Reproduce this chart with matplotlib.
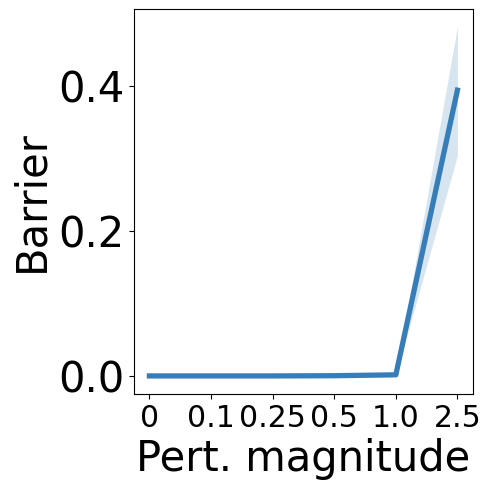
import matplotlib
matplotlib.use("Agg")
from matplotlib import pyplot as plt
import numpy as np

magnitudes = ["0", "0.1", "0.25", "0.5", "1.0", "2.5"]
barrier_mean = [0.0, 0.0, 0.0, 0.0003, 0.0015, 0.394]
barrier_low = [-0.0005, -0.0005, -0.0005, -0.0002, 0.0005, 0.304]
barrier_high = [0.0005, 0.0005, 0.0005, 0.0008, 0.0025, 0.482]

color = "#377eb8"

fig = plt.figure(figsize=(4.91, 4.91), dpi=100)
ax = fig.add_axes([0.273, 0.198, 0.690, 0.784])

x = np.arange(len(magnitudes))
ax.fill_between(x, barrier_low, barrier_high, color=color, alpha=0.2, linewidth=0)
ax.plot(x, barrier_mean, color=color, lw=3.8)

ax.set_xticks(x)
ax.set_xticklabels(magnitudes)
ax.set_xlim(-0.25, 5.25)
ax.set_yticks([0.0, 0.2, 0.4])
ax.tick_params(axis="y", labelsize=30)
ax.tick_params(axis="x", labelsize=21.5)
ax.set_xlabel("Pert. magnitude", fontsize=30)
ax.set_ylabel("Barrier", fontsize=30)

fig.savefig("out.png", dpi=100)
